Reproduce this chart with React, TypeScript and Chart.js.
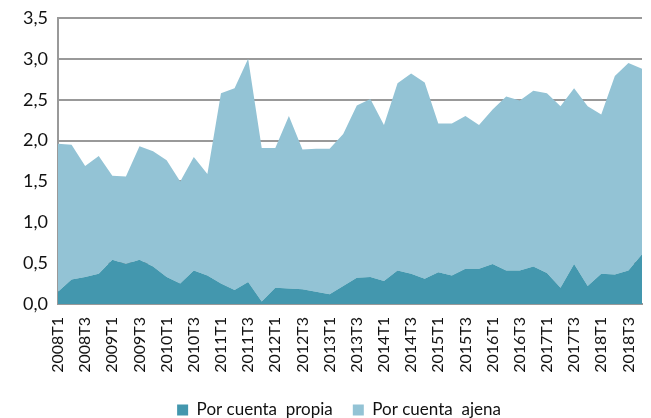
import React, { useEffect, useRef } from "react";
import { Chart, registerables } from "chart.js";

Chart.register(...registerables);

const years = [2008, 2009, 2010, 2011, 2012, 2013, 2014, 2015, 2016, 2017, 2018];
const quarters = ["T1", "T2", "T3", "T4"];
const categories: string[] = [];
years.forEach((y) => quarters.forEach((q) => categories.push(`${y}${q}`)));

const propia = [
  0.15, 0.3, 0.33, 0.37, 0.54, 0.49, 0.54, 0.46, 0.33, 0.25, 0.41, 0.35,
  0.25, 0.17, 0.27, 0.03, 0.2, 0.19, 0.18, 0.15, 0.12, 0.22, 0.32, 0.33,
  0.28, 0.41, 0.37, 0.31, 0.39, 0.35, 0.43, 0.43, 0.49, 0.41, 0.41, 0.46,
  0.38, 0.2, 0.49, 0.22, 0.37, 0.36, 0.41, 0.61,
];
const ajena = [
  1.81, 1.65, 1.36, 1.44, 1.03, 1.07, 1.39, 1.41, 1.43, 1.25, 1.39, 1.24,
  2.33, 2.47, 2.73, 1.88, 1.71, 2.11, 1.71, 1.75, 1.78, 1.86, 2.11, 2.18,
  1.91, 2.29, 2.45, 2.4, 1.82, 1.86, 1.87, 1.76, 1.89, 2.13, 2.08, 2.15,
  2.2, 2.22, 2.15, 2.2, 1.95, 2.43, 2.54, 2.27,
];
const seriesNames = ["Por cuenta  propia", "Por cuenta  ajena"];

const DARK = "#4397ae";
const LIGHT = "#93c3d5";
const FONT = "Lato, 'Open Sans', sans-serif";

const shiftLegend = {
  id: "shiftLegend",
  afterLayout(chart: any) {
    if (chart.legend) {
      chart.legend.left += 18;
      chart.legend.right += 18;
    }
  },
};

export default function App() {
  const ref = useRef<HTMLCanvasElement | null>(null);
  useEffect(() => {
    if (!ref.current) return;
    const chart = new Chart(ref.current, {
      type: "line",
      data: {
        labels: categories,
        datasets: [
          {
            label: seriesNames[0],
            data: propia,
            backgroundColor: DARK,
            borderColor: DARK,
            borderWidth: 0,
            pointRadius: 0,
            fill: "origin",
            tension: 0,
          },
          {
            label: seriesNames[1],
            data: ajena,
            backgroundColor: LIGHT,
            borderColor: LIGHT,
            borderWidth: 0,
            pointRadius: 0,
            fill: "-1",
            tension: 0,
          },
        ],
      },
      plugins: [shiftLegend],
      options: {
        responsive: false,
        animation: false,
        layout: { padding: { top: 18, right: 9, left: 0, bottom: -10.5 } },
        plugins: {
          tooltip: { enabled: false },
          legend: {
            position: "bottom",
            labels: {
              boxWidth: 11,
              boxHeight: 11,
              padding: 20,
              color: "#111",
              font: { family: FONT, size: 17 },
            },
          },
        },
        scales: {
          x: {
            offset: false,
            grid: { display: false, drawTicks: false },
            border: { display: true, color: "#999", width: 2 },
            ticks: {
              autoSkip: false,
              maxRotation: 90,
              minRotation: 90,
              padding: 13,
              color: "#111",
              font: { family: FONT, size: 16 },
              callback: (_v: any, i: number) => (i % 2 === 0 ? categories[i] : ""),
            },
            afterFit: (s: any) => {
              s.height = 77.5;
              s.paddingLeft = 0;
              s.paddingRight = 0;
            },
          },
          y: {
            stacked: true,
            min: 0,
            max: 3.5,
            grid: { color: "#999", lineWidth: 2, drawTicks: false },
            border: { display: true, color: "#999", width: 2 },
            ticks: {
              stepSize: 0.5,
              padding: 10,
              color: "#111",
              font: { family: FONT, size: 18 },
              callback: (v: any) => Number(v).toFixed(1).replace(".", ","),
            },
            afterFit: (s: any) => {
              s.width = 58;
              s.paddingTop = 0;
              s.paddingBottom = 0;
            },
          },
        },
      },
    });
    return () => chart.destroy();
  }, []);
  return (
    <div style={{ position: "fixed", left: 0, top: 0, width: 651, height: 418, background: "#fff" }}>
      <canvas ref={ref} width={651} height={418} />
    </div>
  );
}
